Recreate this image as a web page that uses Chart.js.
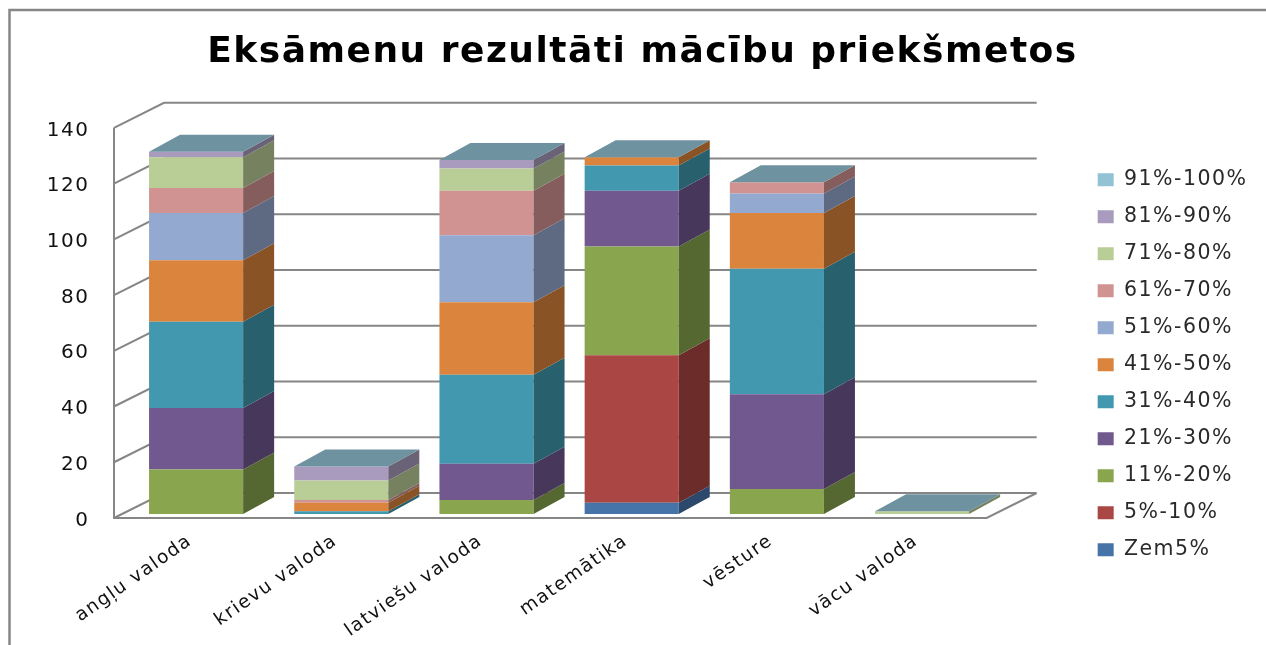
<!DOCTYPE html>
<html>
<head>
<meta charset="utf-8">
<title>Eksāmenu rezultāti</title>
<script src="https://cdn.jsdelivr.net/npm/chart.js@4/dist/chart.umd.js"></script>
<style>
  html, body { margin: 0; padding: 0; background: #fff; }
  /* reference is a soft, upscaled screenshot */
  canvas { display: block; filter: blur(0.5px); }
</style>
</head>
<body>
<canvas id="chart" width="1266" height="645"></canvas>
<script>
const categories = ["angļu valoda", "krievu valoda", "latviešu valoda", "matemātika", "vēsture", "vācu valoda"];
const seriesNames = ["Zem5%", "5%-10%", "11%-20%", "21%-30%", "31%-40%", "41%-50%", "51%-60%", "61%-70%", "71%-80%", "81%-90%", "91%-100%"];

const zem5 = [0, 0, 0, 4, 0, 0];
const p5to10 = [0, 0, 0, 53, 0, 0];
const p11to20 = [16, 0, 5, 39, 9, 0];
const p21to30 = [22, 0, 13, 20, 34, 0];
const p31to40 = [31, 1, 32, 9, 45, 0];
const p41to50 = [22, 3, 26, 3, 20, 0];
const p51to60 = [17, 0, 24, 0, 7, 0];
const p61to70 = [9, 1, 16, 0, 4, 0];
const p71to80 = [11, 7, 8, 0, 0, 1];
const p81to90 = [2, 5, 3, 0, 0, 0];
const p91to100 = [0, 0, 0, 0, 0, 0];
const seriesValues = [zem5, p5to10, p11to20, p21to30, p31to40, p41to50, p51to60, p61to70, p71to80, p81to90, p91to100];

const seriesColors = ["#4673A8", "#AA4643", "#89A54E", "#71588F", "#4198AF", "#DB843D", "#93A9CF", "#D19392", "#B9CD96", "#A99BBD", "#92C3D5"];

// same colour, darker, for the side and top faces
function shade(hex, f) {
  const n = parseInt(hex.slice(1), 16);
  const c = [n >> 16, (n >> 8) & 255, n & 255].map((v) => Math.round(v * f));
  return `rgb(${c[0]},${c[1]},${c[2]})`;
}

const LINE = "#868686";
const BAR_DX = 31, BAR_DY = 17;

// frame and the walls/floor of the 3D box, hung on the library's scales
const wallsPlugin = {
  id: "walls",
  // the text in the reference is stretched wide; the context is reset when the canvas is sized, so set it here
  beforeUpdate(chart) {
    chart.ctx.letterSpacing = "1.5px";
  },
  // legend sits lower than the library would put it
  afterLayout(chart) {
    chart.legend.top += 143;
    chart.legend.bottom += 143;
  },
  beforeDraw(chart) {
    const ctx = chart.ctx;
    ctx.save();
    ctx.strokeStyle = LINE;
    ctx.lineWidth = 2.5;
    ctx.beginPath();
    ctx.moveTo(9.5, 645);
    ctx.lineTo(9.5, 10);
    ctx.lineTo(1266, 10);
    ctx.stroke();
    ctx.restore();
  },
  beforeDatasetsDraw(chart) {
    const { ctx, chartArea, scales } = chart;
    const y = scales.y;
    const frontL = chartArea.left - 9.5, frontR = chartArea.right - 8;
    const backL = frontL + 50, backR = frontR + 50;
    ctx.save();
    ctx.strokeStyle = LINE;
    ctx.lineWidth = 2;
    ctx.beginPath();
    y.ticks.forEach((t) => {
      const py = y.getPixelForValue(t.value);
      ctx.moveTo(frontL, py + 4);
      ctx.lineTo(backL, py - 21);
      ctx.lineTo(backR, py - 21);
    });
    // axis line and floor
    ctx.moveTo(frontL, y.getPixelForValue(y.max) + 4);
    ctx.lineTo(frontL, y.getPixelForValue(0) + 4);
    ctx.lineTo(frontR, y.getPixelForValue(0) + 4);
    ctx.lineTo(backR, y.getPixelForValue(0) - 21);
    ctx.stroke();
    ctx.restore();
  },
  afterDatasetsDraw(chart) {
    const ctx = chart.ctx;
    ctx.save();
    chart.data.datasets.forEach((ds, i) => {
      chart.getDatasetMeta(i).data.forEach((bar) => {
        const right = bar.x + bar.width / 2;
        if (bar.base - bar.y > 0) {
          ctx.fillStyle = shade(ds.backgroundColor, 0.63);
          ctx.beginPath();
          ctx.moveTo(right, bar.y);
          ctx.lineTo(right + BAR_DX, bar.y - BAR_DY);
          ctx.lineTo(right + BAR_DX, bar.base - BAR_DY);
          ctx.lineTo(right, bar.base);
          ctx.closePath();
          ctx.fill();
        }
      });
    });
    // top face comes from the last (empty) series sitting on the stack
    const last = chart.data.datasets.length - 1;
    chart.getDatasetMeta(last).data.forEach((bar) => {
      const left = bar.x - bar.width / 2, right = bar.x + bar.width / 2;
      ctx.fillStyle = shade(seriesColors[last], 0.75);
      ctx.beginPath();
      ctx.moveTo(left, bar.y);
      ctx.lineTo(right, bar.y);
      ctx.lineTo(right + BAR_DX, bar.y - BAR_DY);
      ctx.lineTo(left + BAR_DX, bar.y - BAR_DY);
      ctx.closePath();
      ctx.fill();
    });
    ctx.restore();
  },
};

new Chart(document.getElementById("chart"), {
  type: "bar",
  data: {
    labels: categories,
    datasets: seriesNames.map((name, i) => ({
      label: name,
      data: seriesValues[i],
      backgroundColor: seriesColors[i],
      barPercentage: 0.648,
      categoryPercentage: 1,
    })),
  },
  plugins: [wallsPlugin],
  options: {
    responsive: false,
    animation: false,
    layout: { padding: { left: 27.5, top: 10, right: 8.5, bottom: 0 } },
    plugins: {
      title: {
        display: true,
        text: "Eksāmenu rezultāti mācību priekšmetos",
        color: "#000",
        font: { family: "DejaVu Sans", size: 36, weight: "bold" },
        padding: { top: 21, bottom: 49.6 },
      },
      legend: {
        position: "right",
        reverse: true,
        align: "start",
        labels: {
          boxWidth: 16,
          boxHeight: 13,
          padding: 16.5,
          color: "#2a2a2a",
          font: { family: "DejaVu Sans", size: 20.5 },
        },
      },
      tooltip: { enabled: false },
    },
    scales: {
      x: {
        stacked: true,
        grid: { display: false },
        border: { display: false },
        ticks: {
          color: "#111",
          font: { family: "DejaVu Sans", size: 18.5 },
          minRotation: 35,
          maxRotation: 35,
          autoSkip: false,
          padding: 8,
          labelOffset: -6,
        },
        afterFit(scale) { scale.height = 131; },
      },
      y: {
        stacked: true,
        min: 0,
        max: 140,
        grid: { display: false },
        border: { display: false },
        ticks: {
          stepSize: 20,
          color: "#111",
          labelOffset: 6.5,
          padding: 26,
          font: { family: "DejaVu Sans", size: 20 },
        },
        afterFit(scale) { scale.width = 96; },
      },
      // empty room between the plot and the legend
      spacer: {
        position: "right",
        display: true,
        grid: { display: false },
        border: { display: false },
        ticks: { display: false },
        afterFit(scale) { scale.width = 86.5; },
      },
    },
  },
});
</script>
</body>
</html>
